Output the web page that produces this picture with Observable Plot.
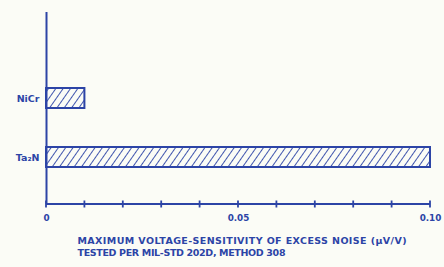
<!DOCTYPE html>
<html>
<head>
<meta charset="utf-8">
<script src="https://cdn.jsdelivr.net/npm/d3@7"></script>
<script src="https://cdn.jsdelivr.net/npm/@observablehq/plot@0.6"></script>
<style>
  html, body { margin: 0; padding: 0; background: #fbfcf6; }
  #chart svg { display: block; }
</style>
</head>
<body>
<svg width="0" height="0" style="position:absolute">
  <defs>
    <pattern id="hatch" patternUnits="userSpaceOnUse" width="6" height="6" patternTransform="rotate(35)">
      <line x1="0" y1="0" x2="0" y2="6" stroke="#2c44a6" stroke-width="1.8"></line>
    </pattern>
  </defs>
</svg>
<div id="chart"></div>
<script>
const materials = ["NiCr", "Ta₂N"];
const noiseValues = [0.01, 0.10];
const tickValues = [0, 0.01, 0.02, 0.03, 0.04, 0.05, 0.06, 0.07, 0.08, 0.09, 0.10];
const tickLabels = [0, 0.05, 0.10];
const axisTitle = ["MAXIMUM VOLTAGE-SENSITIVITY OF EXCESS NOISE (μV/V)", "TESTED PER MIL-STD 202D, METHOD 308"];

const blue = "#2c44a6";
const data = materials.map((m, i) => ({material: m, value: noiseValues[i]}));

function xAxisLine(...args) {
  const scales = args.find(a => a && typeof a.x === "function");
  const dims = args.find(a => a && typeof a === "object" && "marginBottom" in a);
  const y0 = dims.height - dims.marginBottom;
  const g = d3.create("svg:g");
  g.append("line")
    .attr("x1", scales.x(0)).attr("x2", scales.x(0.10))
    .attr("y1", y0).attr("y2", y0)
    .attr("stroke", blue).attr("stroke-width", 2);
  g.selectAll("line.t").data(tickValues).join("line")
    .attr("class", "t")
    .attr("x1", d => scales.x(d)).attr("x2", d => scales.x(d))
    .attr("y1", y0 - 3.5).attr("y2", y0 + 3.5)
    .attr("stroke", blue).attr("stroke-width", 1.8);
  return g.node();
}

const titleStyle = {frameAnchor: "bottom-left", dx: 31, textAnchor: "start", lineAnchor: "top", fontSize: 9.5, fontWeight: "bold", fill: blue};

const chart = Plot.plot({
  width: 444,
  height: 267,
  marginTop: 12,
  marginBottom: 63,
  marginLeft: 46,
  marginRight: 14,
  style: {background: "#fbfcf6", color: blue, fontFamily: "'DejaVu Sans', Verdana, sans-serif"},
  x: {domain: [0, 0.10]},
  y: {domain: materials, range: [49, 206], padding: 0.66},
  marks: [
    Plot.barX(data, {x: "value", y: "material", fill: "url(#hatch)", stroke: blue, strokeWidth: 2}),
    Plot.ruleX([0], {stroke: blue, strokeWidth: 2}),
    xAxisLine,
    Plot.axisX({ticks: tickLabels, tickSize: 0, tickPadding: 10, tickFormat: d => d === 0 ? "0" : d3.format(".2f")(d), fontSize: 8.8, fontWeight: "bold", label: null, fill: blue}),
    Plot.axisY({tickSize: 0, tickPadding: 7, fontSize: 9.5, fontWeight: "bold", label: null, fill: blue}),
    Plot.text([axisTitle[0]], {...titleStyle, dy: 33}),
    Plot.text([axisTitle[1]], {...titleStyle, dy: 45})
  ]
});
// fit the caption lines to the widths they have in the original
const titleWidths = [329, 208];
d3.select(chart).selectAll("text").each(function () {
  const i = axisTitle.indexOf(this.textContent);
  if (i >= 0) d3.select(this).attr("textLength", titleWidths[i]).attr("lengthAdjust", "spacing");
});
document.getElementById("chart").append(chart);
</script>
</body>
</html>
